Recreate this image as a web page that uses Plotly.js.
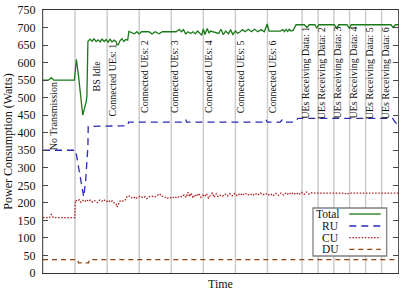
<!DOCTYPE html>
<html><head><meta charset="utf-8">
<script src="https://cdn.plot.ly/plotly-3.0.1.min.js"></script>
<style>html,body{margin:0;padding:0;background:#fff}#chart{width:416px;height:291px}</style>
</head><body><div id="chart"></div>
<script>
// ---- data (time in arbitrary units, power in Watts) ----
const eventTimes = [0,100,200,300,400,500,600,700,808,858,907,956,1006,1056];
const eventLabels = ["No Transmission","BS Idle","Connected UEs: 1","Connected UEs: 2","Connected UEs: 3",
  "Connected UEs: 4","Connected UEs: 5","Connected UEs: 6","UEs Receiving Data: 1","UEs Receiving Data: 2",
  "UEs Receiving Data: 3","UEs Receiving Data: 4","UEs Receiving Data: 5","UEs Receiving Data: 6"];
const labelTimes = [31,166,216,317,412,514,614,714,820,868,919,969,1018,1068];
const labelPower = [447,561,550,561,559,561,561,561,571,571,571,571,571,571];

const totalT = [0,17,26,33,98,104,111,124,135,137,140,147,153,159,166,172,178,184,191,197,203,209,215,222,228,231,235,240,246,252,258,264,268,
  285,293,300,307,330,340,350,362,372,380,415,425,432,438,445,452,460,468,475,482,495,500,505,512,518,522,530,540,548,555,562,570,578,585,592,600,607,
  615,622,630,640,650,660,670,680,690,699,705,715,740,748,753,758,763,768,773,780,789,815,823,830,848,854,860,908,916,922,948,955,961,1085,1092,1099,1107];
const totalW = [550,550,557,550,550,609,560,450,490,505,660,667,661,668,660,665,659,667,660,666,658,667,659,664,660,650,651,662,668,660,666,664,689,
  682,688,682,688,688,682,688,682,688,688,688,695,688,694,682,688,683,688,682,690,678,696,680,697,684,690,688,686,683,695,680,690,682,694,680,690,684,
  688,694,688,695,688,695,688,694,688,710,690,690,690,694,688,695,689,695,690,692,708,708,700,708,708,698,708,708,698,708,708,698,708,708,700,708,708];

const ruT = [0,100,102,114,127,133,140,141,264,267,442,445,448,692,695,700,740,745,752,760,785,795,1090,1100,1107];
const ruW = [350,350,350,285,217,264,360,418,420,430,430,437,430,430,437,430,430,436,428,430,430,441,441,428,425];

const cuT = [0,20,26,32,99,101,108,113,118,124,130,136,142,148,155,162,170,177,184,190,197,204,210,216,222,228,231,235,240,246,252,258,262,
  270,276,282,290,298,305,312,318,324,332,340,348,356,364,370,378,386,394,402,410,418,426,434,440,446,452,457,462,468,474,480,486,492,498,504,510,516,522,528,534,540,546,552,
  560,568,575,582,590,598,606,614,622,630,638,646,654,662,670,678,686,694,702,710,718,726,734,742,750,758,766,774,782,790,798,806,814,822,830,838,846,940,948,954,1107];
const cuW = [158,158,167,158,158,207,205,209,202,207,203,209,204,208,202,206,201,208,205,209,203,207,202,206,200,196,188,196,205,203,208,209,219,
  219,214,217,212,218,219,214,217,212,218,219,216,221,226,219,218,212,216,213,218,214,219,217,223,216,230,218,228,214,224,219,227,216,222,218,226,214,220,228,216,226,218,222,
  219,225,219,226,220,227,220,227,221,228,222,226,221,227,222,228,223,227,222,226,220,227,221,228,222,229,223,230,224,229,223,230,224,231,225,229,228,228,224,228,228];

const duT = [0,100,108,111,142,145,1107];
const duW = [38,38,38,29,29,38,38];

const seriesNames = ["Total","RU","CU","DU"];
const seriesColors = ["#1a7a1a","#2a2ab5","#b01c1c","#8b4513"];
const seriesDash = ["solid","7px,5px","1.5px,1.6px","5px,4px"];

// ---- build ----
const FONT = 'Liberation Serif';
const xs=[totalT,ruT,cuT,duT], ys=[totalW,ruW,cuW,duW];
const traces = seriesNames.map((n,i)=>({x:xs[i],y:ys[i],name:n,type:'scatter',mode:'lines',
  line:{color:seriesColors[i],width:1.3,dash:seriesDash[i]},hoverinfo:'skip',showlegend:false}));

const shapes = eventTimes.map(t=>({type:'line',xref:'x',yref:'paper',x0:t,x1:t,y0:0,y1:1,layer:'below',
  line:{color:'#cccccc',width:1.5}}));
// manual legend (text left of sample, as in the reference)
const L = {x0:0.7606,x1:0.9682,y0:0.0646,y1:0.2471, rows:[0.2243,0.1787,0.1342,0.0901], tx:0.8366, sx0:0.8628, sx1:0.9513};
shapes.push({type:'rect',xref:'paper',yref:'paper',x0:L.x0,x1:L.x1,y0:L.y0,y1:L.y1,fillcolor:'#ffffff',line:{color:'#808080',width:1.3},layer:'above'});
const annotations = [];
seriesNames.forEach((n,i)=>{
  shapes.push({type:'line',xref:'paper',yref:'paper',x0:L.sx0,x1:L.sx1,y0:L.rows[i],y1:L.rows[i],layer:'above',
    line:{color:seriesColors[i],width:1.3,dash:seriesDash[i]}});
  annotations.push({xref:'paper',yref:'paper',x:L.tx,y:L.rows[i],text:n,showarrow:false,xanchor:'right',yanchor:'middle',
    borderpad:0,font:{family:FONT,size:11.5,color:'#111'}});
});
eventLabels.forEach((s,i)=>{
  annotations.push({xref:'x',yref:'y',x:labelTimes[i],y:labelPower[i],text:s,textangle:-90,showarrow:false,
    xanchor:'center',yanchor:'middle',font:{family:FONT,size:10,color:'#111'}});
});

const layout = {
  width:416,height:291,margin:{l:43,r:18,t:10,b:18},
  paper_bgcolor:'#fff',plot_bgcolor:'#fff',showlegend:false,hovermode:false,
  font:{family:FONT,color:'#111'},
  xaxis:{range:[0,1107],showgrid:false,zeroline:false,showticklabels:false,ticks:'',
    showline:true,linecolor:'#333',linewidth:1,mirror:true,
    title:{text:'Time',font:{size:12,family:FONT},standoff:6}},
  yaxis:{range:[0,750],dtick:50,tick0:0,showgrid:false,zeroline:false,ticks:'inside',ticklen:5,tickcolor:'#444',
    showline:true,linecolor:'#555',linewidth:1.2,mirror:'ticks',ticklabelstandoff:4,
    tickfont:{size:12,family:FONT},
    title:{text:'Power Consumption (Watts)',font:{size:12,family:FONT},standoff:2}},
  shapes:shapes,annotations:annotations
};
Plotly.newPlot('chart',traces,layout,{displayModeBar:false,staticPlot:true});
</script></body></html>
